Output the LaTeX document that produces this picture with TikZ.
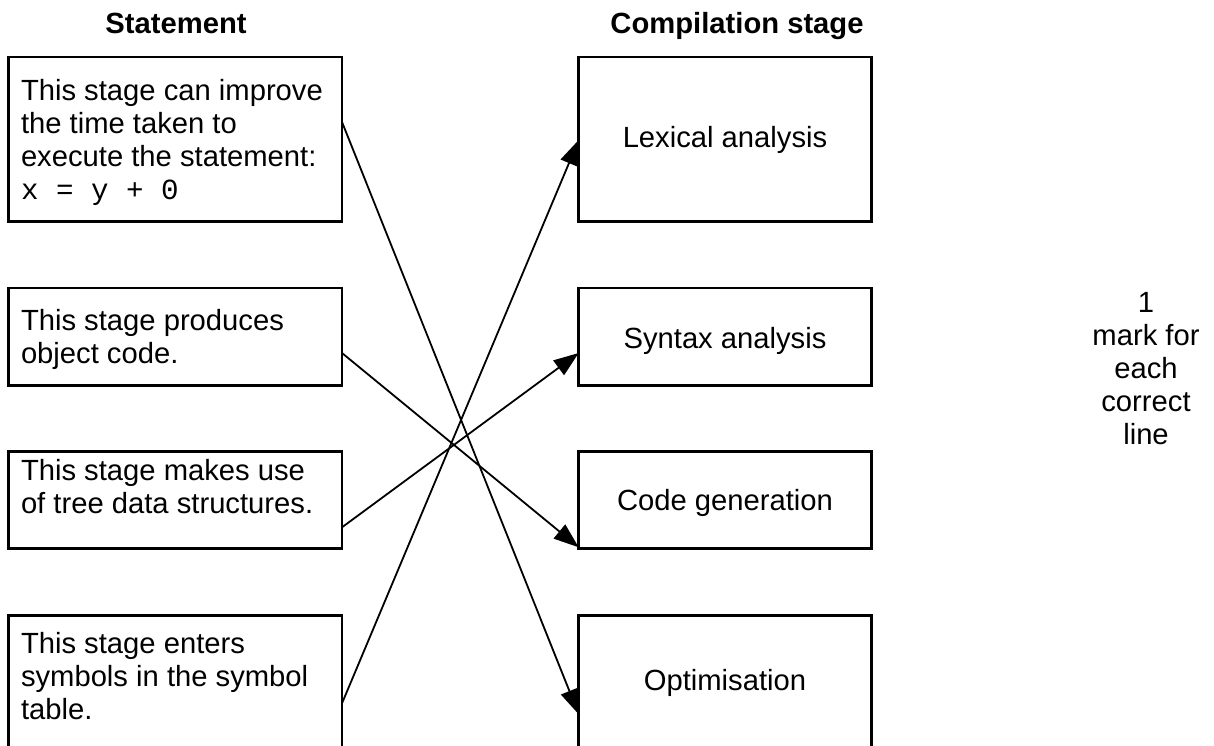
\documentclass[tikz,border=0pt]{standalone}
\usepackage{fontspec}
\setmainfont{Liberation Sans}
\setmonofont{Liberation Mono}
\usetikzlibrary{arrows.meta,calc}
\newcommand{\lefttext}[1]{\begin{tabular}[t]{@{}l@{}}#1\end{tabular}}
\newcommand{\midtext}[1]{\begin{tabular}[t]{@{}c@{}}#1\end{tabular}}
\tikzset{
  box/.style={draw=black, line width=2.8pt, rectangle, inner sep=0pt, outer sep=0pt, fill=none},
  sbox/.style={box, anchor=north west, minimum width=333.5pt},
  cbox/.style={box, anchor=north west, minimum width=292.6pt},
  txt/.style={inner sep=0pt, outer sep=0pt, font=\fontsize{29.2}{33}\selectfont},
  hdr/.style={txt, font=\fontsize{29.2}{33}\selectfont\bfseries, anchor=base},
  link/.style={draw=black, line width=1.8pt, -{Triangle[length=25pt,width=18pt]}},
}
\begin{document}
\begin{tikzpicture}[x=1pt,y=-1pt]
\clip (0,0) rectangle (1214,745);
\fill[white] (0,0) rectangle (1214,745);
% headers
\node[hdr] (hs) at (176,33) {Statement};
\node[hdr] (hc) at (737,33) {Compilation stage};
% statement boxes
\node[sbox, minimum height=164.5pt] (s1) at (8.5,57) {};
\node[sbox, minimum height=97.3pt] (s2) at (8.5,288) {};
\node[sbox, minimum height=97.3pt] (s3) at (8.5,451.3) {};
\node[sbox, minimum height=140pt] (s4) at (8.5,615.3) {};
% stage boxes
\node[cbox, minimum height=164.5pt] (c1) at (578.7,57) {};
\node[cbox, minimum height=97.3pt] (c2) at (578.7,288) {};
\node[cbox, minimum height=97.3pt] (c3) at (578.7,451.3) {};
\node[cbox, minimum height=140pt] (c4) at (578.7,615.3) {};
% statement texts
\node[txt, anchor=base west] (t1) at ($(s1.north west)+(12.5,43)$) {\lefttext{This stage can improve\\the time taken to\\execute the statement:\\\texttt{x = y + 0}}};
\node[txt, anchor=base west] (t2) at ($(s2.north west)+(12.5,42)$) {\lefttext{This stage produces\\object code.}};
\node[txt, anchor=base west] (t3) at ($(s3.north west)+(12.5,28.7)$) {\lefttext{This stage makes use\\of tree data structures.}};
\node[txt, anchor=base west] (t4) at ($(s4.north west)+(12.5,38)$) {\lefttext{This stage enters\\symbols in the symbol\\table.}};
% stage texts
\node[txt, anchor=base] (u1) at ($(c1.north)+(0,90)$) {Lexical analysis};
\node[txt, anchor=base] (u2) at ($(c2.north)+(0,60.3)$) {Syntax analysis};
\node[txt, anchor=base] (u3) at ($(c3.north)+(0,59.4)$) {Code generation};
\node[txt, anchor=base] (u4) at ($(c4.north)+(0,75.4)$) {Optimisation};
% marks note
\node[txt, anchor=base] (note) at (1146,312) {\midtext{1\\mark for\\each\\correct\\line}};
% connectors
\draw[link] ($(s1.north east)+(0,65)$) -- ($(c4.north west)+(0,99)$);
\draw[link] ($(s2.north east)+(0,65)$) -- ($(c3.north west)+(0,96)$);
\draw[link] ($(s3.north east)+(0,76)$) -- ($(c2.north west)+(0,65)$);
\draw[link] ($(s4.north east)+(0,88)$) -- ($(c1.north west)+(0,83)$);
\end{tikzpicture}
\end{document}
